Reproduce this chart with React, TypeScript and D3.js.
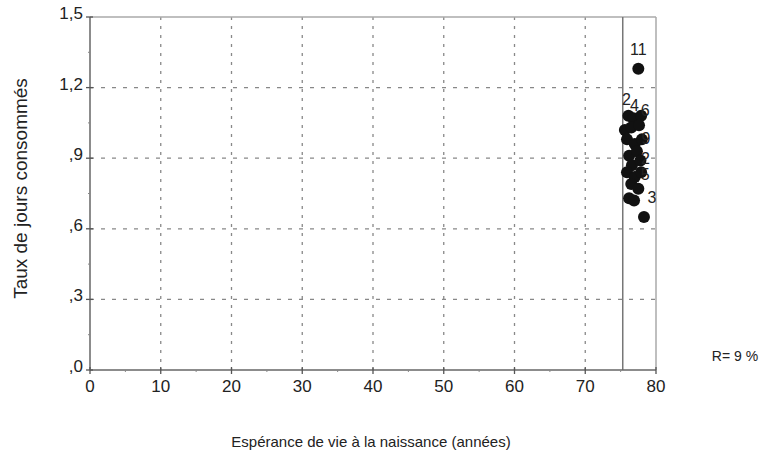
import React from "react";
import * as d3 from "d3";

// espérance de vie (années)
const esperance = [77.5, 76.1, 76.8, 77.9, 75.6, 76.5, 77.6, 75.9, 77.0, 78.0, 76.2, 77.3, 76.6, 77.8, 75.9, 77.0, 77.9, 76.5, 77.5, 76.2, 76.9, 78.3];
// taux de jours consommés
const taux = [1.28, 1.08, 1.07, 1.08, 1.02, 1.03, 1.04, 0.98, 0.96, 0.98, 0.91, 0.93, 0.87, 0.89, 0.84, 0.82, 0.84, 0.79, 0.77, 0.73, 0.72, 0.65];
// étiquettes des points ("" = pas d'étiquette)
const etiquettes = ["11", "2", "4", "6", "", "", "", "", "", "9", "", "", "", "2", "", "", "5", "", "", "", "", "3"];

const xTicks = [0, 10, 20, 30, 40, 50, 60, 70, 80];
const yTicks = [0, 0.3, 0.6, 0.9, 1.2, 1.5];
const refLine = 75.3;
const rLabel = "R= 9 %";

const W = 782;
const H = 467;
const font = "'Liberation Sans', Arial, sans-serif";

const fmtY = (v: number) => {
  const s = v.toFixed(1).replace(".", ",");
  return s.startsWith("0") ? s.slice(1) : s;
};

export default function App() {
  const x = d3.scaleLinear().domain([0, 80]).range([90, 656]);
  const y = d3.scaleLinear().domain([0, 1.5]).range([370, 17]);

  const minorX = d3.range(5, 80, 5).filter((v) => v % 10 !== 0);
  const minorY = d3.range(0.15, 1.5, 0.3);

  // where each point label sits relative to its point
  const labelPos = (i: number) => {
    const l = etiquettes[i];
    const px = x(esperance[i]);
    const py = y(taux[i]);
    if (l === "11") return [px, py - 14];
    if (l === "3") return [px + 8, py - 14];
    if (i === 1) return [px - 2, py - 11];
    if (i === 2) return [px + 1, py - 7];
    if (i === 3) return [px + 4, py];
    if (i === 13) return [px + 5, py + 3];
    if (i === 16) return [px + 4, py + 8];
    return [px + 4, py + 5];
  };

  return (
    <svg width={W} height={H} style={{ position: "absolute", left: 0, top: 0, background: "#fff" }} fontFamily={font}>
      {/* grid */}
      {xTicks.slice(1, -1).map((t) => (
        <line key={"gx" + t} x1={x(t)} x2={x(t)} y1={y(1.5)} y2={y(0)} stroke="#888" strokeWidth={1.3} strokeDasharray="3,6" />
      ))}
      {yTicks.slice(1, -1).map((t) => (
        <line key={"gy" + t} x1={x(0)} x2={x(80)} y1={y(t)} y2={y(t)} stroke="#888" strokeWidth={1.3} strokeDasharray="4,7" />
      ))}

      {/* frame */}
      <line x1={x(0)} x2={x(80)} y1={y(1.5)} y2={y(1.5)} stroke="#aaa" strokeWidth={1.5} />
      <line x1={x(80)} x2={x(80)} y1={y(1.5)} y2={y(0)} stroke="#aaa" strokeWidth={1.5} />
      <line x1={x(refLine)} x2={x(refLine)} y1={y(1.5)} y2={y(0)} stroke="#777" strokeWidth={1.5} />

      {/* axes */}
      <line x1={x(0)} x2={x(80)} y1={y(0)} y2={y(0)} stroke="#666" strokeWidth={1.5} />
      <line x1={x(0)} x2={x(0)} y1={y(1.5)} y2={y(0)} stroke="#666" strokeWidth={1.5} />
      {xTicks.map((t) => (
        <g key={"xt" + t}>
          <line x1={x(t)} x2={x(t)} y1={y(0) - 3} y2={y(0) + 4} stroke="#555" strokeWidth={1.3} />
          <text x={x(t)} y={y(0) + 22} textAnchor="middle" fontSize={17} fill="#222">{t}</text>
        </g>
      ))}
      {minorX.map((t) => (
        <line key={"mx" + t} x1={x(t)} x2={x(t)} y1={y(0)} y2={y(0) + 2} stroke="#888" />
      ))}
      {yTicks.map((t) => (
        <g key={"yt" + t}>
          <line x1={x(0) - 4} x2={x(0) + 3} y1={y(t)} y2={y(t)} stroke="#555" strokeWidth={1.3} />
          <text x={x(0) - 7} y={y(t) + 2} textAnchor="end" fontSize={17} fill="#222">{fmtY(t)}</text>
        </g>
      ))}
      {minorY.map((t) => (
        <line key={"my" + t} x1={x(0) - 2} x2={x(0)} y1={y(t)} y2={y(t)} stroke="#888" />
      ))}

      {/* points */}
      {esperance.map((e, i) => (
        <circle key={"p" + i} cx={x(e)} cy={y(taux[i])} r={6} fill="#111" />
      ))}
      {etiquettes.map((l, i) => {
        if (!l) return null;
        const [lx, ly] = labelPos(i);
        return (
          <text key={"l" + i} x={lx} y={ly} textAnchor="middle" fontSize={16} fill="#222">{l}</text>
        );
      })}

      {/* titles */}
      <text transform={`translate(27, ${y(0.75) - 5}) rotate(-90)`} textAnchor="middle" fontSize={19} fill="#222">
        Taux de jours consommés
      </text>
      <text x={371} y={447} textAnchor="middle" fontSize={15} fill="#222">
        Espérance de vie à la naissance (années)
      </text>
      <text x={735} y={361} textAnchor="middle" fontSize={14} fill="#222">{rLabel}</text>
    </svg>
  );
}
